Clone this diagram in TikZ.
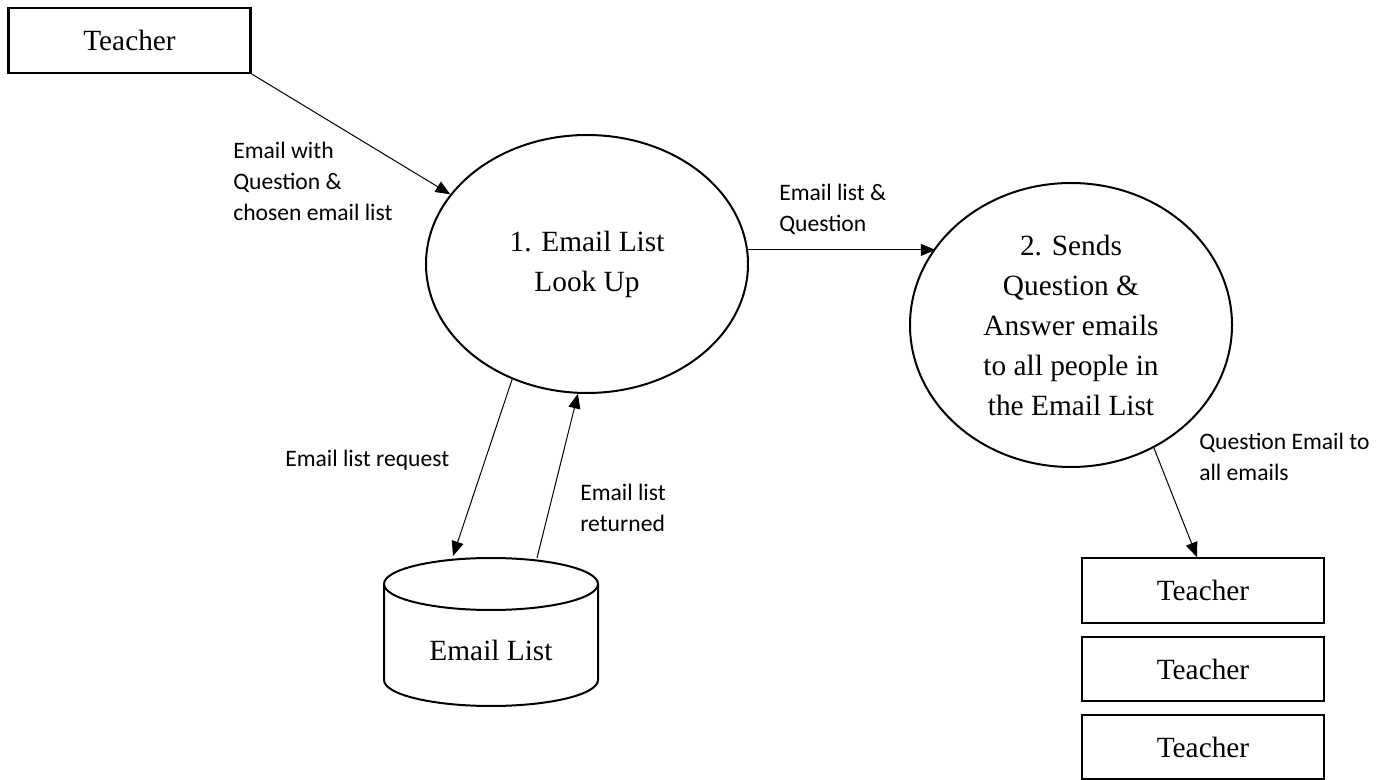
\documentclass[tikz,border=0pt]{standalone}
\usepackage{fontspec}
\setmainfont{Liberation Serif}
\newfontfamily\labfont{Carlito}
\usetikzlibrary{arrows.meta,shapes.geometric}
\begin{document}
\begin{tikzpicture}[x=0.75pt,y=-0.75pt,
  box/.style={draw, line width=1.6pt, minimum width=181.5pt, minimum height=48.5pt, inner sep=0pt, font=\fontsize{22}{26}\selectfont},
  proc/.style={draw, ellipse, line width=1.5pt, inner sep=0pt, align=center, font=\fontsize{22}{30}\selectfont},
  lab/.style={font=\labfont\fontsize{17.7}{23.25}\selectfont, align=left, inner sep=0pt, anchor=west},
  arr/.style={-{Triangle[length=11pt,width=9pt]}, line width=0.75pt},
  cyl/.style={line width=1.5pt}]
\useasboundingbox (0,0) rectangle (1386,780);

% entities
\node[box] (t0) at (129.5,40.5) {Teacher};
\node[box] (b1) at (1203,590.5) {Teacher};
\node[box] (b2) at (1203,669) {Teacher};
\node[box] (b3) at (1203,747) {Teacher};

% processes
\node[proc, minimum width=241.5pt, minimum height=193.5pt] (e1) at (587,264) {1. Email List\\Look Up};
\node[proc, minimum width=241.5pt, minimum height=213pt] (e2) at (1071,325) {2. Sends\\Question \&\\Answer emails\\to all people in\\the Email List};

% data store (cylinder)
\draw[cyl] (491,584) ellipse [x radius=107, y radius=26];
\draw[cyl] (384,584) -- (384,680) arc[start angle=180, end angle=0, x radius=107, y radius=26] -- (598,584);
\node[font=\fontsize{22}{26}\selectfont, inner sep=0pt] (ds) at (491,650) {Email List};
\coordinate (cA) at (453,556);
\coordinate (cB) at (537,558);

% connectors
\draw[arr] (t0.south east) -- (e1.153);
\draw[arr] (e1.5) -- (e1.5 -| e2.150);
\draw[arr] (e1.237) -- (cA);
\draw[arr] (cB) -- (e1.266);
\draw[arr] (e2.304) -- ([xshift=-4.5pt]b1.north);

% labels
\node[lab] (l1) at (233,181) {Email with\\Question \&\\chosen email list};
\node[lab] (l2) at (779,209) {Email list \&\\Question};
\node[lab] (l3) at (285,460) {Email list request};
\node[lab] (l4) at (580,508) {Email list\\returned};
\node[lab] (l5) at (1199,457) {Question Email to\\all emails};
\end{tikzpicture}
\end{document}
